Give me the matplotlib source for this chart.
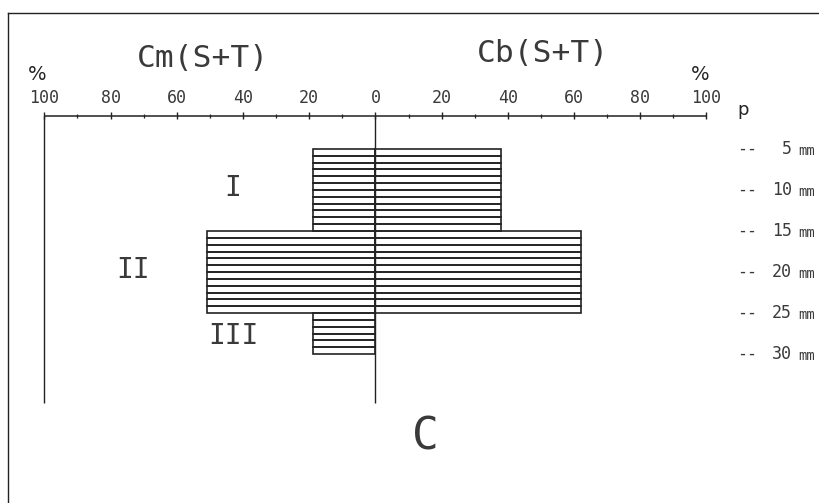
import numpy as np
import matplotlib
matplotlib.use("Agg")
import matplotlib.pyplot as plt
from matplotlib.lines import Line2D

# layers (depth in mm) and percentages on each side
layers = ["I", "II", "III"]
layer_thickness = [12, 12, 6]
cm_values = [19, 51, 19]      # left side, Cm(S+T) %
cb_values = [38, 62, 0]       # right side, Cb(S+T) %

major_ticks = [-100, -80, -60, -40, -20, 0, 20, 40, 60, 80, 100]
minor_ticks = [-90, -70, -50, -30, -10, 10, 30, 50, 70, 90]
tick_labels = ["100", "80", "60", "40", "20", "0", "20", "40", "60", "80", "100"]
depth_labels = [5, 10, 15, 20, 25, 30]

ink = "#222222"
txt = "#3a3a3a"
mono = "DejaVu Sans Mono"

fig = plt.figure(figsize=(8.2, 5.03), dpi=100, facecolor="white")
ax = fig.add_axes([0, 0, 1, 1])
ax.axis("off")
ax.set_xlim(-113.4, 134.3)
ax.set_ylim(51.8, -21.8)

axis_y = -4.85
bottom_y = 37.2

# bars, one strip per mm
tops = np.concatenate([[0], np.cumsum(layer_thickness)[:-1]])
strip_y = []
strip_cm = []
strip_cb = []
for top, th, cm, cb in zip(tops, layer_thickness, cm_values, cb_values):
    for k in range(th):
        strip_y.append(top + k + 0.5)
        strip_cm.append(cm)
        strip_cb.append(cb)
strip_y = np.array(strip_y)
strip_cm = np.array(strip_cm)
strip_cb = np.array(strip_cb)

ax.barh(strip_y, -strip_cm, height=1.0, fill=False, edgecolor=ink, linewidth=1.2)
mask = strip_cb > 0
ax.barh(strip_y[mask], strip_cb[mask], height=1.0, fill=False, edgecolor=ink, linewidth=1.2)

# top scale
ax.hlines(axis_y, -100, 100, color=ink, linewidth=1.1)
ax.vlines(major_ticks, axis_y - 0.5, axis_y + 0.45, color=ink, linewidth=1.0)
ax.vlines(minor_ticks, axis_y - 0.25, axis_y + 0.25, color=ink, linewidth=0.9)
for xt, lab in zip(major_ticks, tick_labels):
    ax.text(xt, axis_y - 2.6, lab, ha="center", va="center", fontsize=12,
            family=mono, color=txt)

# verticals
ax.vlines([-100, 0], axis_y, bottom_y, color=ink, linewidth=1.0)

# titles and units
ax.text(-52, -13.3, "Cm(S+T)", ha="center", va="center", fontsize=22.5,
        family=mono, color=txt)
ax.text(50.5, -14.0, "Cb(S+T)", ha="center", va="center", fontsize=22.5,
        family=mono, color=txt)
ax.text(-102.3, -10.9, "%", ha="center", va="center", fontsize=14, color=ink)
ax.text(98.2, -10.9, "%", ha="center", va="center", fontsize=14, color=ink)
ax.text(111, -5.7, "p", ha="center", va="center", fontsize=13, color=ink)

# depth labels on the right
total = sum(layer_thickness)
for i, d in enumerate(depth_labels):
    yy = total * i / (len(depth_labels) - 1)
    ax.text(109.2, yy, "--", ha="left", va="center", fontsize=12, family=mono, color=txt)
    ax.text(125.8, yy, str(d), ha="right", va="center", fontsize=12, family=mono, color=txt)
    ax.text(127.8, yy + 0.3, "mm", ha="left", va="center", fontsize=10, family=mono, color=txt)

# layer names
roman_pos = [(-43, 5.7), (-73.3, 17.7), (-43, 27.4)]
for name, (xx, yy) in zip(layers, roman_pos):
    ax.text(xx, yy, name, ha="center", va="center", fontsize=20, family=mono, color=txt)

ax.text(15, 42.2, "C", ha="center", va="center", fontsize=32, family=mono, color=txt)

# cropped frame
fig.add_artist(Line2D([8 / 820, 1], [1 - 13 / 503, 1 - 13 / 503], color=ink, linewidth=1.0))
fig.add_artist(Line2D([8 / 820, 8 / 820], [0, 1 - 13 / 503], color=ink, linewidth=1.0))

fig.savefig("out.png", dpi=100, facecolor="white")
